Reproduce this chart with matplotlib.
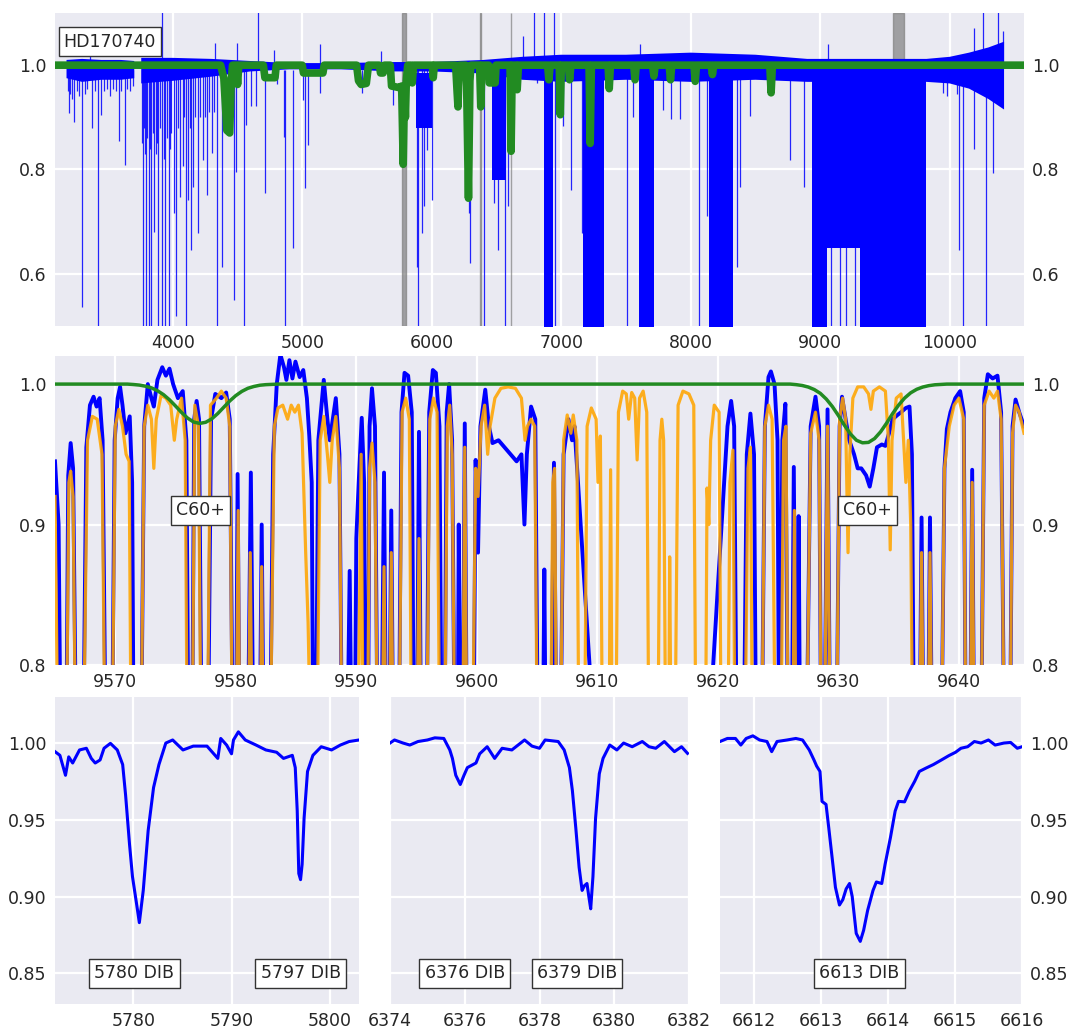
import numpy as np
import matplotlib
matplotlib.use("Agg")
import matplotlib.pyplot as plt
from matplotlib.ticker import FormatStrFormatter

plt.rcParams["font.family"] = "DejaVu Sans"
plt.rcParams["font.size"] = 12

BG = "#EAEAF2"
TXT = "#262626"
nan = np.nan

# ---------------- top panel: full spectrum overview ----------------
star = "HD170740"

# continuum noise envelope of the observed spectrum
noise_x = [3180, 3300, 3450, 3600, 3703, 3704, 3756, 3757, 4000, 4300, 4600, 4900, 5300,
           5700, 6000, 6400, 6700, 7000, 7500, 8000, 8500, 8900, 9300, 9820, 10000, 10150,
           10300, 10420]
noise_hi = [1.010, 1.012, 1.010, 1.010, 1.008, nan, nan, 1.014, 1.014, 1.012, 1.008, 1.004,
            1.004, 1.006, 1.006, 1.010, 1.016, 1.020, 1.020, 1.024, 1.020, 1.012, 1.012,
            1.012, 1.016, 1.024, 1.034, 1.045]
noise_lo = [0.975, 0.968, 0.972, 0.972, 0.975, nan, nan, 0.965, 0.970, 0.978, 0.988, 0.992,
            0.992, 0.988, 0.988, 0.984, 0.972, 0.968, 0.972, 0.968, 0.972, 0.968, 0.968,
            0.968, 0.965, 0.955, 0.935, 0.915]

# saturated / blended absorption regions (start, end, lowest level)
band_start = [5878, 6469, 6865, 7165, 7600, 8140, 8935, 9050, 9310]
band_end = [6003, 6575, 6935, 7330, 7715, 8330, 9050, 9310, 9820]
band_low = [0.88, 0.78, 0.40, 0.40, 0.40, 0.40, 0.40, 0.65, 0.40]

# individual absorption lines (wavelength, minimum)
line_x = [3190, 3198, 3210, 3225, 3238, 3260, 3280, 3299, 3320, 3340, 3379, 3400, 3424,
          3445, 3470, 3490, 3517, 3540, 3560, 3584, 3600, 3629, 3650, 3670, 3690,
          3760, 3770, 3775, 3785, 3796, 3805, 3818, 3825, 3836, 3845, 3858, 3870, 3880,
          3889, 3900, 3916, 3930, 3943, 3955, 3969, 3980, 3990,
          4009, 4028, 4040, 4057, 4076, 4090, 4102, 4115, 4130, 4142, 4155, 4170, 4195,
          4210, 4235, 4250, 4262, 4280, 4302, 4320, 4341, 4381,
          4474, 4488, 4554, 4567, 4607, 4647, 4714, 4807, 4860, 4865, 4927,
          5006, 5020, 5046, 5139, 5458, 5698,
          5884, 5897, 5924, 5942, 5963, 6003, 6288, 6296, 6402, 6482, 6509, 6563, 6588,
          6812, 6950, 7012, 7073, 7158, 7371, 7509, 7557, 7783, 7849, 7916,
          8062, 8128, 8354, 8381, 8461, 8767, 8873, 9080, 9150, 9200, 9270,
          9950, 9976, 10056, 10069, 10104, 10189, 10282, 10335]
line_y = [0.950, 0.908, 0.945, 0.935, 0.892, 0.950, 0.940, 0.537, 0.945, 0.955, 0.880,
          0.950, 0.40, 0.905, 0.950, 0.955, 0.940, 0.955, 0.950, 0.854, 0.950, 0.809,
          0.955, 0.950, 0.960,
          0.850, 0.40, 0.880, 0.830, 0.40, 0.860, 0.40, 0.840, 0.40, 0.870, 0.680, 0.830,
          0.850, 0.40, 0.880, 0.40, 0.820, 0.40, 0.860, 0.40, 0.840, 0.870,
          0.716, 0.520, 0.880, 0.748, 0.806, 0.900, 0.500, 0.742, 0.880, 0.645, 0.767,
          0.900, 0.678, 0.900, 0.819, 0.900, 0.751, 0.910, 0.831, 0.910, 0.40, 0.613,
          0.549, 0.796, 0.40, 0.886, 0.921, 0.921, 0.754, 0.963, 0.863, 0.40, 0.649,
          0.934, 0.764, 0.847, 0.947, 0.947, 0.924,
          0.613, 0.40, 0.678, 0.730, 0.838, 0.742, 0.716, 0.620, 0.40, 0.735, 0.645, 0.40,
          0.730,
          0.966, 0.40, 0.883, 0.761, 0.678, 0.953, 0.40, 0.900, 0.915, 0.896, 0.896,
          0.40, 0.710, 0.613, 0.767, 0.902, 0.819, 0.767, 0.40, 0.40, 0.40, 0.40,
          0.947, 0.940, 0.945, 0.645, 0.40, 0.840, 0.40, 0.793]

# emission-like spikes (wavelength, maximum)
spike_x = [3363, 3921, 4328, 4496, 4660, 4780, 5134, 5605, 6708, 6790, 6865, 6945,
           7610, 9059, 10189, 10256, 10375, 10415]
spike_y = [1.040, 1.12, 1.043, 1.043, 1.12, 1.030, 1.040, 1.027, 1.056, 1.12, 1.12, 1.12,
           1.040, 1.040, 1.072, 1.12, 1.12, 1.065]

# DIB model (thick green)
dib_model_x = [3000, 4370, 4395, 4418, 4440, 4452, 4462, 4492, 4501, 4510,
               4700, 4712, 4790, 4800, 5000, 5010, 5160, 5170,
               5420, 5435, 5455, 5495, 5512, 5595, 5605, 5625, 5635,
               5680, 5690, 5748, 5768, 5780, 5790, 5797, 5804, 5815,
               5840, 5850, 5860, 6005, 6012, 6020, 6185, 6196, 6203, 6212,
               6262, 6270, 6284, 6295, 6303, 6370, 6379, 6388,
               6440, 6445, 6490, 6497, 6605, 6613, 6622, 6652, 6660, 6670,
               6895, 6905, 6915, 6985, 6993, 7001, 7055, 7065, 7075,
               7215, 7224, 7233, 7362, 7371, 7380, 7560, 7570, 7580,
               7706, 7716, 7726, 7834, 7844, 7854, 8025, 8035, 8045,
               8158, 8168, 8178, 8611, 8621, 8631, 10700]
dib_model_y = [1.0, 1.0, 0.975, 0.875, 0.870, 0.970, 1.0, 1.0, 0.963, 1.0,
               1.0, 0.976, 0.976, 1.0, 1.0, 0.985, 0.985, 1.0,
               1.0, 0.970, 0.963, 0.965, 1.0, 1.0, 0.985, 0.985, 1.0,
               1.0, 0.960, 0.957, 0.960, 0.810, 0.960, 0.900, 0.970, 1.0,
               1.0, 0.966, 1.0, 1.0, 0.976, 1.0, 1.0, 0.950, 0.920, 1.0,
               1.0, 0.960, 0.745, 0.970, 1.0, 1.0, 0.920, 1.0,
               1.0, 0.966, 0.966, 1.0, 1.0, 0.835, 1.0, 1.0, 0.953, 1.0,
               1.0, 0.972, 1.0, 1.0, 0.905, 1.0, 1.0, 0.972, 1.0,
               1.0, 0.850, 1.0, 1.0, 0.955, 1.0, 1.0, 0.972, 1.0,
               1.0, 0.979, 1.0, 1.0, 0.972, 1.0, 1.0, 0.969, 1.0,
               1.0, 0.982, 1.0, 1.0, 0.947, 1.0, 1.0]

# ---------------- middle panel: C60+ region ----------------
obs_c60 = [
    (9565.0, 0.945), (9565.3, 0.90), (9565.5, 0.70), (9565.9, 0.70), (9566.1, 0.935),
    (9566.3, 0.958), (9566.5, 0.94), (9566.8, 0.70), (9567.3, 0.70), (9567.6, 0.955),
    (9567.9, 0.985), (9568.2, 0.991), (9568.45, 0.984), (9568.7, 0.990), (9568.95, 0.96),
    (9569.25, 0.70), (9569.7, 0.70), (9569.95, 0.96), (9570.2, 0.99), (9570.4, 0.998),
    (9570.6, 0.985), (9570.85, 0.965), (9571.2, 0.977), (9571.4, 0.93), (9571.55, 0.70),
    (9572.1, 0.70), (9572.4, 0.97), (9572.7, 1.000), (9573.0, 0.99), (9573.2, 0.984),
    (9573.5, 1.003), (9573.9, 1.012), (9574.2, 1.006), (9574.5, 1.011), (9574.8, 1.000),
    (9575.2, 0.99), (9575.6, 0.995), (9575.9, 0.96), (9576.1, 0.70), (9576.35, 0.70),
    (9576.55, 0.975), (9576.75, 0.988), (9576.95, 0.975), (9577.2, 0.70), (9577.65, 0.70),
    (9577.95, 0.975), (9578.3, 0.993), (9578.8, 0.99), (9579.2, 0.994), (9579.5, 0.975),
    (9579.8, 0.70), (9580.0, 0.70), (9580.15, 0.936), (9580.35, 0.70), (9580.95, 0.70),
    (9581.25, 0.937), (9581.5, 0.70), (9581.95, 0.70), (9582.15, 0.90), (9582.35, 0.70),
    (9582.8, 0.70), (9583.1, 0.95), (9583.4, 1.000), (9583.7, 1.021), (9584.0, 1.012),
    (9584.2, 1.003), (9584.45, 1.017), (9584.7, 1.004), (9584.95, 1.016), (9585.3, 1.005),
    (9585.6, 1.010), (9585.9, 0.99), (9586.1, 0.963), (9586.3, 0.93), (9586.45, 0.70),
    (9586.6, 0.70), (9586.85, 0.96), (9587.3, 1.003), (9587.6, 0.975), (9587.8, 0.96),
    (9588.3, 0.99), (9588.6, 0.95), (9588.85, 0.70), (9589.2, 0.70), (9589.45, 0.867),
    (9589.65, 0.70), (9589.85, 0.70), (9590.0, 0.89), (9590.2, 0.93), (9590.45, 0.976),
    (9590.65, 0.93), (9590.8, 0.70), (9590.95, 0.70), (9591.1, 0.97), (9591.3, 0.997),
    (9591.55, 0.97), (9591.8, 0.70), (9592.05, 0.70), (9592.3, 0.937), (9592.5, 0.70),
    (9592.7, 0.70), (9592.9, 0.91), (9593.1, 0.70), (9593.5, 0.70), (9593.75, 0.98),
    (9594.0, 1.008), (9594.3, 1.006), (9594.6, 0.98), (9594.8, 0.70), (9595.0, 0.70),
    (9595.2, 0.966), (9595.4, 0.70), (9595.8, 0.70), (9596.05, 0.98), (9596.35, 1.010),
    (9596.6, 1.008), (9596.9, 0.97), (9597.1, 0.70), (9597.3, 0.70), (9597.5, 0.98),
    (9597.7, 1.000), (9597.95, 0.96), (9598.2, 0.70), (9598.4, 0.70), (9598.5, 0.90),
    (9598.65, 0.70), (9598.8, 0.70), (9599.0, 0.972), (9599.2, 0.70), (9599.7, 0.70),
    (9599.9, 0.946), (9600.1, 0.88), (9600.3, 0.97), (9600.7, 0.996), (9601.0, 0.97),
    (9601.3, 0.958), (9601.8, 0.96), (9602.3, 0.955), (9602.8, 0.95), (9603.3, 0.945),
    (9603.7, 0.95), (9603.95, 0.90), (9604.15, 0.95), (9604.5, 0.984), (9604.85, 0.975),
    (9605.1, 0.70), (9605.45, 0.70), (9605.6, 0.868), (9605.75, 0.70), (9606.1, 0.70),
    (9606.4, 0.944), (9606.65, 0.70), (9606.9, 0.70), (9607.2, 0.95), (9607.6, 0.975),
    (9607.9, 0.96), (9608.1, 0.97), (9609.5, 0.78), (9609.6, 0.70), (9619.3, 0.70),
    (9619.4, 0.77), (9620.8, 0.97), (9621.1, 0.988), (9621.35, 0.97), (9621.6, 0.70),
    (9622.1, 0.70), (9622.4, 0.95), (9622.7, 0.979), (9623.0, 0.95), (9623.2, 0.70),
    (9623.6, 0.70), (9623.9, 0.97), (9624.2, 1.005), (9624.4, 1.009), (9624.7, 1.000),
    (9624.95, 0.96), (9625.1, 0.70), (9625.35, 0.96), (9625.6, 0.986), (9625.85, 0.70),
    (9626.1, 0.70), (9626.3, 0.941), (9626.5, 0.70), (9626.6, 0.70), (9626.7, 0.906),
    (9626.85, 0.70), (9627.3, 0.70), (9627.7, 0.97), (9628.1, 0.991), (9628.4, 0.97),
    (9628.6, 0.70), (9628.8, 0.70), (9629.1, 0.982), (9629.35, 0.70), (9629.8, 0.70),
    (9630.1, 0.97), (9630.3, 0.991), (9630.6, 0.975), (9630.9, 0.96), (9631.3, 0.95),
    (9631.6, 0.94), (9631.9, 0.94), (9632.3, 0.935), (9632.6, 0.927), (9632.9, 0.94),
    (9633.2, 0.955), (9633.6, 0.957), (9633.9, 0.956), (9634.2, 0.965), (9634.5, 0.975),
    (9634.9, 0.978), (9635.2, 0.98), (9635.6, 0.983), (9635.9, 0.984), (9636.1, 0.95),
    (9636.3, 0.70), (9636.7, 0.70), (9636.9, 0.905), (9637.1, 0.70), (9637.4, 0.70),
    (9637.6, 0.905), (9637.8, 0.70), (9638.5, 0.70), (9638.8, 0.94), (9639.0, 0.968),
    (9639.3, 0.98), (9639.7, 0.99), (9640.1, 0.995), (9640.4, 0.98), (9640.6, 0.70),
    (9640.9, 0.70), (9641.1, 0.939), (9641.3, 0.70), (9641.8, 0.70), (9642.1, 0.99),
    (9642.4, 1.007), (9642.8, 1.004), (9643.2, 1.006), (9643.5, 0.98), (9643.8, 0.70),
    (9644.2, 0.70), (9644.45, 0.97), (9644.7, 0.989), (9645.0, 0.98), (9645.4, 0.97),
]

telluric_c60 = [
    (9565.0, 0.92), (9565.3, 0.70), (9565.9, 0.70), (9566.15, 0.93), (9566.3, 0.938),
    (9566.5, 0.92), (9566.75, 0.70), (9567.3, 0.70), (9567.7, 0.96), (9568.1, 0.977),
    (9568.5, 0.975), (9568.9, 0.95), (9569.2, 0.70), (9569.7, 0.70), (9570.0, 0.97),
    (9570.3, 0.982), (9570.6, 0.97), (9570.9, 0.95), (9571.15, 0.945), (9571.35, 0.70),
    (9572.1, 0.70), (9572.4, 0.97), (9572.7, 0.985), (9573.0, 0.975), (9573.2, 0.94),
    (9573.4, 0.975), (9573.8, 0.992), (9574.2, 0.99), (9574.6, 0.985), (9574.9, 0.96),
    (9575.1, 0.975), (9575.5, 0.99), (9575.8, 0.96), (9576.0, 0.70), (9576.35, 0.70),
    (9576.6, 0.985), (9576.9, 0.97), (9577.15, 0.70), (9577.6, 0.70), (9577.9, 0.985),
    (9578.4, 0.99), (9578.8, 0.995), (9579.2, 0.99), (9579.5, 0.97), (9579.75, 0.70),
    (9580.0, 0.70), (9580.2, 0.91), (9580.35, 0.70), (9581.0, 0.70), (9581.2, 0.88),
    (9581.4, 0.70), (9582.0, 0.70), (9582.15, 0.87), (9582.3, 0.70), (9582.8, 0.70),
    (9583.2, 0.97), (9583.5, 0.983), (9583.9, 0.985), (9584.3, 0.975), (9584.6, 0.985),
    (9584.9, 0.98), (9585.2, 0.985), (9585.5, 0.965), (9585.8, 0.88), (9586.0, 0.83),
    (9586.3, 0.70), (9586.7, 0.70), (9587.0, 0.96), (9587.3, 0.977), (9587.6, 0.95),
    (9587.8, 0.93), (9588.0, 0.96), (9588.3, 0.977), (9588.6, 0.94), (9588.85, 0.70),
    (9590.1, 0.70), (9590.4, 0.95), (9590.6, 0.70), (9590.9, 0.70), (9591.1, 0.94),
    (9591.3, 0.958), (9591.55, 0.93), (9591.8, 0.70), (9592.1, 0.70), (9592.3, 0.87),
    (9592.5, 0.70), (9592.7, 0.70), (9592.9, 0.88), (9593.1, 0.70), (9593.5, 0.70),
    (9593.8, 0.98), (9594.1, 0.99), (9594.4, 0.975), (9594.6, 0.70), (9595.0, 0.70),
    (9595.2, 0.89), (9595.4, 0.70), (9595.8, 0.70), (9596.1, 0.975), (9596.4, 0.99),
    (9596.7, 0.98), (9596.95, 0.70), (9597.3, 0.70), (9597.55, 0.97), (9597.75, 0.985),
    (9597.95, 0.95), (9598.2, 0.70), (9598.8, 0.70), (9599.0, 0.955), (9599.2, 0.70),
    (9599.6, 0.70), (9599.9, 0.94), (9600.1, 0.92), (9600.35, 0.97), (9600.65, 0.985),
    (9600.9, 0.95), (9601.1, 0.97), (9601.5, 0.99), (9602.0, 0.997), (9602.6, 0.998),
    (9603.2, 0.997), (9603.7, 0.99), (9604.0, 0.96), (9604.2, 0.97), (9604.5, 0.975),
    (9604.8, 0.97), (9605.05, 0.70), (9606.1, 0.70), (9606.3, 0.93), (9606.45, 0.94),
    (9606.65, 0.70), (9606.9, 0.70), (9607.2, 0.96), (9607.5, 0.978), (9607.8, 0.965),
    (9608.0, 0.978), (9608.3, 0.96), (9608.5, 0.70), (9608.9, 0.70), (9609.15, 0.97),
    (9609.5, 0.983), (9609.9, 0.975), (9610.05, 0.93), (9610.25, 0.963), (9610.45, 0.70),
    (9610.95, 0.70), (9611.1, 0.939), (9611.25, 0.70), (9611.5, 0.70), (9611.75, 0.98),
    (9612.1, 0.995), (9612.4, 0.993), (9612.6, 0.975), (9612.85, 0.994), (9613.1, 0.99),
    (9613.3, 0.946), (9613.5, 0.99), (9613.8, 0.995), (9614.1, 0.98), (9614.3, 0.70),
    (9615.0, 0.70), (9615.2, 0.96), (9615.35, 0.975), (9615.5, 0.96), (9615.7, 0.70),
    (9615.9, 0.70), (9616.0, 0.877), (9616.15, 0.70), (9616.4, 0.70), (9616.7, 0.985),
    (9617.1, 0.995), (9617.6, 0.993), (9618.0, 0.985), (9618.2, 0.70), (9618.95, 0.70),
    (9619.1, 0.926), (9619.25, 0.90), (9619.4, 0.96), (9619.7, 0.985), (9620.1, 0.98),
    (9620.3, 0.70), (9620.8, 0.70), (9621.0, 0.93), (9621.25, 0.953), (9621.45, 0.70),
    (9622.2, 0.70), (9622.5, 0.94), (9622.7, 0.955), (9622.9, 0.70), (9623.6, 0.70),
    (9623.9, 0.97), (9624.2, 0.985), (9624.5, 0.975), (9624.8, 0.70), (9625.2, 0.70),
    (9625.45, 0.96), (9625.65, 0.97), (9625.85, 0.70), (9626.2, 0.70), (9626.35, 0.91),
    (9626.5, 0.70), (9627.3, 0.70), (9627.7, 0.965), (9628.1, 0.98), (9628.4, 0.96),
    (9628.6, 0.70), (9628.8, 0.70), (9629.1, 0.97), (9629.35, 0.70), (9629.8, 0.70),
    (9630.1, 0.975), (9630.35, 0.99), (9630.6, 0.975), (9630.8, 0.88), (9630.95, 0.95),
    (9631.2, 0.99), (9631.6, 0.998), (9632.1, 0.998), (9632.5, 0.993), (9632.7, 0.982),
    (9632.9, 0.995), (9633.4, 0.998), (9633.9, 0.995), (9634.15, 0.96), (9634.3, 0.882),
    (9634.45, 0.96), (9634.8, 0.99), (9635.2, 0.993), (9635.6, 0.93), (9635.8, 0.96),
    (9636.0, 0.90), (9636.2, 0.70), (9636.7, 0.70), (9636.9, 0.88), (9637.1, 0.70),
    (9637.4, 0.70), (9637.6, 0.88), (9637.8, 0.70), (9638.5, 0.70), (9638.8, 0.94),
    (9639.2, 0.97), (9639.6, 0.985), (9640.0, 0.99), (9640.4, 0.975), (9640.6, 0.70),
    (9640.9, 0.70), (9641.1, 0.93), (9641.3, 0.70), (9641.8, 0.70), (9642.1, 0.985),
    (9642.5, 0.995), (9642.9, 0.99), (9643.2, 0.995), (9643.5, 0.975), (9643.8, 0.70),
    (9644.2, 0.70), (9644.45, 0.965), (9644.7, 0.985), (9645.0, 0.98), (9645.4, 0.965),
]

c60_model = [
    (9560.0, 1.0), (9571.0, 1.0), (9571.5, 0.9997), (9572.0, 0.9993), (9572.5, 0.9985),
    (9573.0, 0.9973), (9573.5, 0.9953), (9574.0, 0.9925), (9574.5, 0.9888), (9575.0, 0.9844),
    (9575.5, 0.9798), (9576.0, 0.9758), (9576.5, 0.9730), (9577.0, 0.9720), (9577.5, 0.9728),
    (9578.0, 0.9752), (9578.5, 0.9790), (9579.0, 0.9835), (9579.5, 0.9880), (9580.0, 0.9918),
    (9580.5, 0.9948), (9581.0, 0.9970), (9581.5, 0.9983), (9582.0, 0.9992), (9582.5, 0.9996),
    (9583.5, 1.0), (9626.0, 1.0), (9626.5, 0.9996), (9627.0, 0.9990), (9627.5, 0.9979),
    (9628.0, 0.9961), (9628.5, 0.9934), (9629.0, 0.9893), (9629.5, 0.9840), (9630.0, 0.9776),
    (9630.5, 0.9707), (9631.0, 0.9645), (9631.5, 0.9600), (9632.0, 0.9582), (9632.5, 0.9585),
    (9633.0, 0.9612), (9633.5, 0.9660), (9634.0, 0.9722), (9634.5, 0.9790), (9635.0, 0.9851),
    (9635.5, 0.9901), (9636.0, 0.9938), (9636.5, 0.9963), (9637.0, 0.9979), (9637.5, 0.9989),
    (9638.0, 0.9995), (9639.0, 1.0), (9650.0, 1.0),
]
c60_labels = [(9577.1, "C60+"), (9632.4, "C60+")]

# ---------------- bottom panels: DIB profiles ----------------
dib_5780 = [
    (5772.0, 0.9944), (5772.5, 0.992), (5773.07, 0.979), (5773.4, 0.991), (5773.8, 0.987),
    (5774.5, 0.9955), (5775.2, 0.9966), (5775.7, 0.990), (5776.1, 0.987), (5776.6, 0.989),
    (5777.0, 0.9966), (5777.65, 0.9998), (5778.35, 0.9955), (5778.9, 0.986), (5779.2, 0.966),
    (5779.6, 0.934), (5779.9, 0.913), (5780.3, 0.896), (5780.6, 0.883), (5781.0, 0.904),
    (5781.5, 0.943), (5782.05, 0.971), (5782.6, 0.986), (5783.3, 1.000), (5784.0, 1.002),
    (5785.05, 0.9955), (5786.1, 0.998), (5787.5, 0.998), (5788.6, 0.990), (5788.9, 1.003),
    (5789.5, 0.9987), (5790.0, 0.993), (5790.2, 1.002), (5790.7, 1.0073), (5791.4, 1.002),
    (5792.5, 0.9987), (5793.5, 0.9955), (5794.6, 0.994), (5795.3, 0.990), (5796.2, 0.992),
    (5796.5, 0.984), (5796.7, 0.956), (5796.86, 0.915), (5797.04, 0.911), (5797.2, 0.921),
    (5797.4, 0.951), (5797.75, 0.9815), (5798.3, 0.992), (5799.15, 0.9976), (5800.2, 0.9955),
    (5801.1, 0.9987), (5802.0, 1.001), (5803.0, 1.002),
]
dib_6379 = [
    (6374.0, 1.0), (6374.12, 1.002), (6374.35, 1.0), (6374.53, 0.9987), (6374.75, 1.001),
    (6375.0, 1.002), (6375.2, 1.0034), (6375.44, 1.003), (6375.6, 0.9955), (6375.67, 0.990),
    (6375.76, 0.979), (6375.88, 0.973), (6375.98, 0.979), (6376.07, 0.984), (6376.3, 0.987),
    (6376.4, 0.993), (6376.6, 0.9976), (6376.8, 0.990), (6377.0, 0.9966), (6377.26, 0.9955),
    (6377.6, 1.002), (6377.8, 0.998), (6378.0, 0.9966), (6378.15, 1.002), (6378.5, 1.001),
    (6378.66, 0.9955), (6378.8, 0.984), (6378.88, 0.969), (6378.97, 0.945), (6379.06, 0.919),
    (6379.14, 0.904), (6379.2, 0.907), (6379.27, 0.9085), (6379.32, 0.900), (6379.37, 0.892),
    (6379.43, 0.913), (6379.5, 0.951), (6379.6, 0.980), (6379.7, 0.990), (6379.88, 0.9987),
    (6380.07, 0.9955), (6380.25, 1.000), (6380.48, 0.9976), (6380.75, 1.001), (6380.93, 0.9976),
    (6381.11, 0.9966), (6381.34, 1.001), (6381.61, 0.9944), (6381.8, 0.9976), (6381.96, 0.9933),
]
dib_6613 = [
    (6611.5, 1.001), (6611.61, 1.003), (6611.73, 1.003), (6611.81, 0.9987), (6611.89, 1.003),
    (6611.99, 1.0047), (6612.09, 1.002), (6612.2, 1.001), (6612.27, 0.9944), (6612.35, 1.001),
    (6612.5, 1.002), (6612.63, 1.003), (6612.73, 1.002), (6612.83, 0.9955), (6612.9, 0.989),
    (6612.94, 0.985), (6612.99, 0.9815), (6613.02, 0.962), (6613.08, 0.960), (6613.12, 0.945),
    (6613.17, 0.9256), (6613.22, 0.906), (6613.28, 0.8945), (6613.33, 0.898), (6613.38, 0.905),
    (6613.43, 0.9085), (6613.47, 0.900), (6613.53, 0.876), (6613.59, 0.8708), (6613.64, 0.878),
    (6613.7, 0.891), (6613.78, 0.904), (6613.83, 0.9095), (6613.91, 0.9085), (6613.96, 0.921),
    (6614.04, 0.9385), (6614.11, 0.9557), (6614.16, 0.962), (6614.25, 0.9617), (6614.32, 0.9686),
    (6614.4, 0.975), (6614.47, 0.9815), (6614.57, 0.9837), (6614.68, 0.986), (6614.8, 0.989),
    (6614.91, 0.9918), (6615.01, 0.994), (6615.09, 0.9966), (6615.19, 0.9976), (6615.29, 1.001),
    (6615.39, 1.000), (6615.5, 1.002), (6615.6, 0.9987), (6615.73, 1.000), (6615.83, 1.0004),
    (6615.93, 0.9966), (6616.0, 0.9976),
]

dib_panels = [
    dict(data=dib_5780, xlim=(5772, 5803), ticks=[5780, 5790, 5800],
         labels=[(5780.1, "5780 DIB"), (5797.05, "5797 DIB")]),
    dict(data=dib_6379, xlim=(6374, 6382), ticks=[6374, 6376, 6378, 6380, 6382],
         labels=[(6376.0, "6376 DIB"), (6379.0, "6379 DIB")]),
    dict(data=dib_6613, xlim=(6611.5, 6616), ticks=[6612, 6613, 6614, 6615, 6616],
         labels=[(6613.58, "6613 DIB")]),
]

box = dict(boxstyle="square,pad=0.3", fc="white", ec="#333333", lw=1.0)


def style(ax):
    ax.set_facecolor(BG)
    for s in ax.spines.values():
        s.set_visible(False)
    ax.set_axisbelow(True)
    ax.grid(True, color="white", lw=1.6)
    ax.tick_params(length=0, pad=6, labelsize=12.5, colors=TXT)


fig = plt.figure(figsize=(10.7, 10.3), dpi=100)
W, H = 1070.0, 1030.0

# ---- top ----
ax = fig.add_axes([55 / W, 1 - 326 / H, 969 / W, 313 / H])
style(ax)
ax.tick_params(labelright=True)
for x0, x1 in [(5772, 5803), (6374, 6382), (6611.5, 6616), (9565, 9645)]:
    ax.axvspan(x0, x1, color="gray", alpha=0.7, zorder=0.8)
ax.fill_between(noise_x, noise_lo, noise_hi, color="blue", lw=0, zorder=2)
for x0, x1, lo in zip(band_start, band_end, band_low):
    ax.fill_between([x0, x1], lo, 0.985, color="blue", lw=0, zorder=2)
ax.vlines(line_x, line_y, 0.99, color="blue", lw=0.9, alpha=0.85, zorder=2)
ax.vlines(spike_x, 1.0, spike_y, color="blue", lw=0.9, alpha=0.85, zorder=2)
ax.plot(dib_model_x, dib_model_y, color="forestgreen", lw=5.5,
        solid_joinstyle="round", solid_capstyle="round", zorder=3)
ax.text(3515, 1.045, star, ha="center", va="center", fontsize=12.5, color=TXT,
        bbox=box, zorder=5)
ax.set_xlim(3091, 10574)
ax.set_ylim(0.5, 1.1)
ax.set_xticks(range(4000, 10001, 1000))
ax.set_yticks([0.6, 0.8, 1.0])
ax.yaxis.set_major_formatter(FormatStrFormatter("%.1f"))

# ---- middle ----
ax = fig.add_axes([55 / W, 1 - 665 / H, 969 / W, 309 / H])
style(ax)
ax.tick_params(labelright=True)
obs = np.array(obs_c60)
tel = np.array(telluric_c60)
mod = np.array(c60_model)
ax.plot(obs[:, 0], obs[:, 1], color="blue", lw=2.8, zorder=2)
ax.plot(tel[:, 0], tel[:, 1], color="orange", lw=2.3, alpha=0.88, zorder=3)
ax.plot(mod[:, 0], mod[:, 1], color="forestgreen", lw=2.5, zorder=4)
for x, s in c60_labels:
    ax.text(x, 0.91, s, ha="center", va="center", fontsize=12.5, color=TXT,
            bbox=box, zorder=5)
ax.set_xlim(9565, 9645.4)
ax.set_ylim(0.8, 1.02)
ax.set_xticks(range(9570, 9641, 10))
ax.set_yticks([0.8, 0.9, 1.0])
ax.yaxis.set_major_formatter(FormatStrFormatter("%.1f"))

# ---- bottom row ----
lefts = [(55, 359), (390, 689), (720, 1022)]
for i, (panel, (l, r)) in enumerate(zip(dib_panels, lefts)):
    ax = fig.add_axes([l / W, 1 - 1004 / H, (r - l) / W, 307 / H])
    style(ax)
    d = np.array(panel["data"])
    ax.plot(d[:, 0], d[:, 1], color="blue", lw=2.2, zorder=2)
    for x, s in panel["labels"]:
        ax.text(x, 0.85, s, ha="center", va="center", fontsize=12.5, color=TXT,
                bbox=box, zorder=5)
    ax.set_xlim(*panel["xlim"])
    ax.set_ylim(0.83, 1.03)
    ax.set_xticks(panel["ticks"])
    ax.set_yticks([0.85, 0.90, 0.95, 1.00])
    ax.yaxis.set_major_formatter(FormatStrFormatter("%.2f"))
    if i == 1:
        ax.tick_params(labelleft=False)
    elif i == 2:
        ax.tick_params(labelleft=False, labelright=True)

fig.savefig("out.png", dpi=100, facecolor="white")
